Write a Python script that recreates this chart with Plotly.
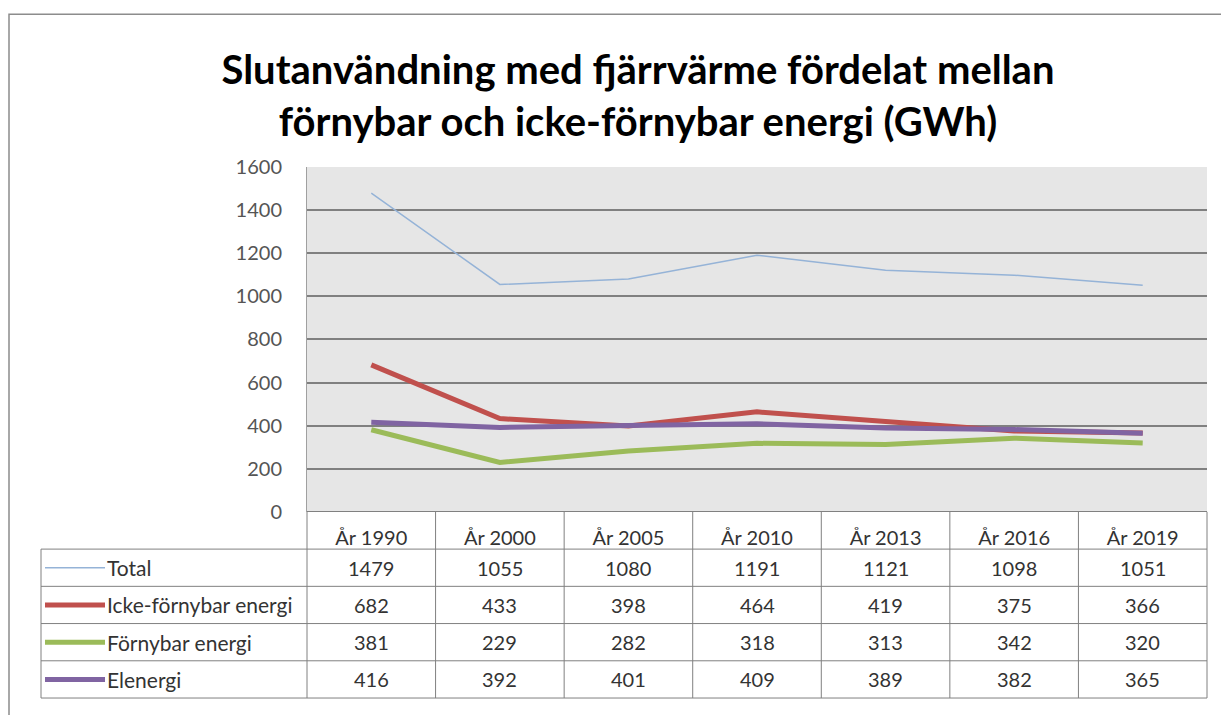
import plotly.graph_objects as go

categories = ["År 1990", "År 2000", "År 2005", "År 2010", "År 2013", "År 2016", "År 2019"]
series_names = ["Total", "Icke-förnybar energi", "Förnybar energi", "Elenergi"]
total = [1479, 1055, 1080, 1191, 1121, 1098, 1051]
icke_fornybar = [682, 433, 398, 464, 419, 375, 366]
fornybar = [381, 229, 282, 318, 313, 342, 320]
elenergi = [416, 392, 401, 409, 389, 382, 365]
y_ticks = [0, 200, 400, 600, 800, 1000, 1200, 1400, 1600]

series_values = [total, icke_fornybar, fornybar, elenergi]
colors = ["#95B3D7", "#C0504D", "#9BBB59", "#8064A2"]
widths = [1.5, 5, 5, 5]

FONT = "Lato"
OFF = 8  # page body margin
W, H = 1229 - OFF, 715 - OFF
# reference pixel positions (page coordinates)
L, R, T, B = 307, 1207, 167, 710
PW, PH = R - L, B - T


def px(x):
    return (x - L) / PW


def py(y):
    return (B - y) / PH


fig = go.Figure()
for name, vals, c, w in zip(series_names, series_values, colors, widths):
    fig.add_trace(go.Scatter(x=categories, y=vals, mode="lines", name=name,
                             line=dict(color=c, width=w), showlegend=False))

shapes = []
grid_c = "#808080"
# outer frame
shapes.append(dict(type="rect", xref="paper", yref="paper", x0=px(9), x1=px(1240),
                   y0=py(730), y1=py(11), line=dict(color="#8c8c8c", width=1.5)))
# table row lines
row_edges = [557, 595, 633, 671, 709]
for ry in row_edges:
    shapes.append(dict(type="line", xref="paper", yref="paper", x0=px(41), x1=1,
                       y0=py(ry), y1=py(ry), line=dict(color=grid_c, width=1)))
n = len(categories)
for k in range(n + 1):
    shapes.append(dict(type="line", xref="paper", yref="paper", x0=k / n, x1=k / n,
                       y0=py(519), y1=py(709), line=dict(color=grid_c, width=1)))
shapes.append(dict(type="line", xref="paper", yref="paper", x0=px(41), x1=px(41),
                   y0=py(557), y1=py(709), line=dict(color=grid_c, width=1)))

annotations = []
for i, (name, vals, c, w) in enumerate(zip(series_names, series_values, colors, widths)):
    yc = (row_edges[i] + row_edges[i + 1]) / 2
    shapes.append(dict(type="line", xref="paper", yref="paper", x0=px(45), x1=px(105),
                       y0=py(yc), y1=py(yc), line=dict(color=c, width=w)))
    annotations.append(dict(xref="paper", yref="paper", x=px(105), y=py(yc), text=name,
                            showarrow=False, xanchor="left", yanchor="middle",
                            font=dict(family=FONT, size=21, color="#333333")))
    for cat, v in zip(categories, vals):
        annotations.append(dict(xref="x", yref="paper", x=cat, y=py(yc), text=str(v),
                                showarrow=False, xanchor="center", yanchor="middle",
                                font=dict(family=FONT, size=20, color="#333333")))

fig.update_layout(
    width=W, height=H,
    margin=dict(l=L - OFF, r=W - (R - OFF), t=T - OFF, b=H - (B - OFF)),
    paper_bgcolor="white", plot_bgcolor="#e6e6e6",
    title=dict(text="Slutanvändning med fjärrvärme fördelat mellan<br>förnybar och icke-förnybar energi (GWh)",
               x=(638 - OFF) / W, xref="container", xanchor="center",
               y=1 - (84 - OFF) / H, yref="container", yanchor="middle",
               font=dict(family=FONT, size=40, color="black", weight="bold")),
    xaxis=dict(type="category", categoryorder="array", categoryarray=categories,
               range=[-0.5, n - 0.5], showgrid=False, ticks="", zeroline=False,
               showline=False, tickfont=dict(family=FONT, size=20, color="#333333"),
               ticklabelstandoff=12, anchor="y"),
    yaxis=dict(domain=[py(519), 1], range=[0, 1600], tickvals=y_ticks,
               showgrid=True, gridcolor=grid_c, gridwidth=2,
               zeroline=True, zerolinecolor=grid_c, zerolinewidth=1,
               showline=True, linecolor="#a0a0a0", linewidth=1,
               ticks="", tickfont=dict(family=FONT, size=20, color="#555555"),
               ticklabelstandoff=20),
    shapes=shapes, annotations=annotations,
)

fig.write_html("out.html")
